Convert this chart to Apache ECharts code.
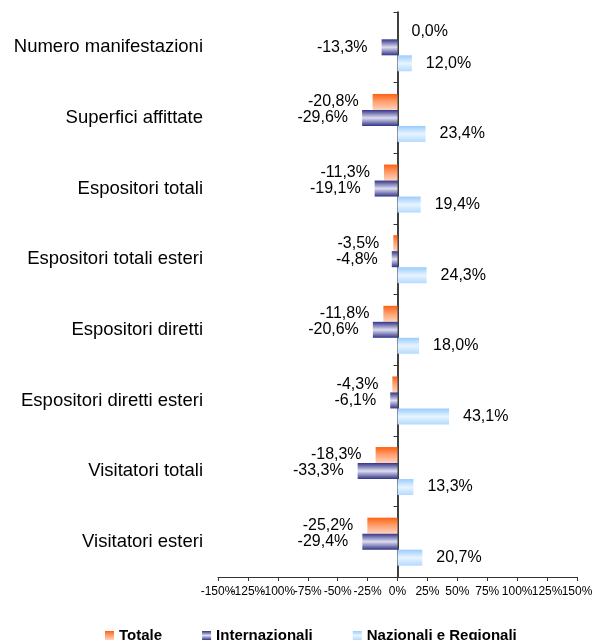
<!DOCTYPE html>
<html>
<head>
<meta charset="utf-8">
<script src="https://cdn.jsdelivr.net/npm/echarts@6/dist/echarts.min.js"></script>
<style>
  html, body { margin: 0; padding: 0; background: #fff; }
  #chart { width: 592px; height: 640px; }
</style>
</head>
<body>
<div id="chart"></div>
<script>
// categorie (dall'alto verso il basso)
var categorie = ['Numero manifestazioni', 'Superfici affittate', 'Espositori totali', 'Espositori totali esteri',
  'Espositori diretti', 'Espositori diretti esteri', 'Visitatori totali', 'Visitatori esteri'];
var totale = [0.0, -20.8, -11.3, -3.5, -11.8, -4.3, -18.3, -25.2];
var internazionali = [-13.3, -29.6, -19.1, -4.8, -20.6, -6.1, -33.3, -29.4];
var nazionali = [12.0, 23.4, 19.4, 24.3, 18.0, 43.1, 13.3, 20.7];
var nomiSerie = ['Totale', 'Internazionali', 'Nazionali e Regionali'];
// asse x: da -150% a 150% ogni 25%
var xMin = -150, xMax = 150, xPasso = 25;

var FONT = 'Liberation Sans, Arial, sans-serif';

function grad(stops) {
  return new echarts.graphic.LinearGradient(0, 0, 0, 1, stops.map(function (s) {
    return { offset: s[0], color: s[1] };
  }));
}
var colori = [
  grad([[0, '#ff6010'], [0.45, '#ff9c6a'], [1, '#ffd2bc']]),
  grad([[0, '#33338a'], [0.5, '#dedef0'], [1, '#33338a']]),
  grad([[0, '#99ccff'], [0.5, '#e8f4ff'], [1, '#b4daff']])
];

function fmt(p) {
  return p.value.toFixed(1).replace('.', ',') + '%';
}

function serie(nome, dati, idx) {
  return {
    name: nome,
    type: 'bar',
    xAxisIndex: 0,
    yAxisIndex: 0,
    barWidth: 16,
    barGap: '0%',
    data: dati,
    itemStyle: { color: colori[idx] },
    label: {
      show: true,
      position: 'outside',
      distance: 14,
      formatter: fmt,
      fontFamily: FONT,
      fontSize: 16,
      color: '#000'
    }
  };
}

// le etichette dell'asse x si toccano: le divido su due assi sovrapposti
function asseX(pari, visibile) {
  return {
    type: 'value',
    position: 'bottom',
    min: xMin,
    max: xMax,
    interval: xPasso,
    splitLine: { show: false },
    axisLine: { show: visibile, onZero: false, lineStyle: { color: '#333', width: 1 } },
    axisTick: { show: visibile, length: 4, lineStyle: { color: '#333' } },
    axisLabel: {
      formatter: function (v) {
        var ePari = Math.round(v / xPasso) % 2 === 0;
        return ePari === pari ? v + '%' : '';
      },
      fontFamily: FONT,
      fontSize: 12,
      color: '#000',
      margin: 9,
      showMinLabel: true,
      showMaxLabel: true,
      hideOverlap: false
    }
  };
}

var myChart = echarts.init(document.getElementById('chart'));
var option = {
  animation: false,
  backgroundColor: '#fff',
  legend: {
    left: 100,
    top: 623,
    itemWidth: 9,
    itemHeight: 9,
    itemGap: 40,
    icon: 'rect',
    textStyle: { fontFamily: FONT, fontSize: 15, fontWeight: 'bold', color: '#000' },
    data: nomiSerie
  },
  grid: {
    left: 218,
    right: 15,
    top: 12,
    bottom: 63,
    containLabel: false,
    outerBoundsMode: 'none'
  },
  xAxis: [asseX(true, true), asseX(false, false)],
  yAxis: [
    {
      // asse sullo zero
      type: 'category',
      inverse: true,
      data: categorie,
      axisLine: { show: true, onZero: true, onZeroAxisIndex: 0, lineStyle: { color: '#000', width: 1.5 } },
      axisTick: { show: true, length: 4, lineStyle: { color: '#333' } },
      axisLabel: { show: false },
      splitLine: { show: false }
    },
    {
      // etichette categorie
      type: 'category',
      inverse: true,
      position: 'left',
      data: categorie,
      axisLine: { show: false, onZero: false },
      axisTick: { show: false },
      axisLabel: {
        margin: 15,
        fontFamily: FONT,
        fontSize: 18.5,
        color: '#000'
      },
      splitLine: { show: false }
    }
  ],
  series: [
    serie(nomiSerie[0], totale, 0),
    serie(nomiSerie[1], internazionali, 1),
    serie(nomiSerie[2], nazionali, 2)
  ]
};
myChart.setOption(option);
</script>
</body>
</html>
